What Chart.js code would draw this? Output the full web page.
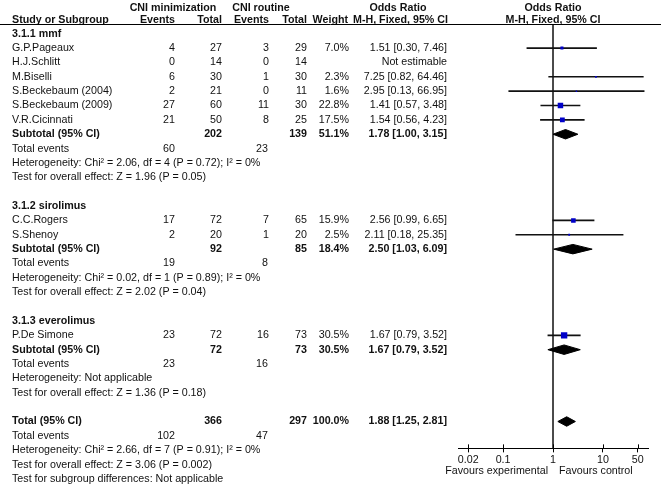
<!DOCTYPE html>
<html><head><meta charset="utf-8">
<script src="https://cdn.jsdelivr.net/npm/chart.js@4"></script>
<style>html,body{margin:0;padding:0;background:#fff;}#wrap{width:661px;height:488px;position:relative;}</style>
</head><body><div id="wrap"><canvas id="c" width="661" height="488"></canvas></div>
<script>
// ---------- data ----------
const studyNames = ["G.P.Pageaux","H.J.Schlitt","M.Biselli","S.Beckebaum (2004)","S.Beckebaum (2009)","V.R.Cicinnati","C.C.Rogers","S.Shenoy","P.De Simone"];
const studyRows = [1,2,3,4,5,6,13,14,21];
const expEvents = [4,0,6,2,27,21,17,2,23];
const expTotals = [27,14,30,21,60,50,72,20,72];
const ctlEvents = [3,0,1,0,11,8,7,1,16];
const ctlTotals = [29,14,30,11,30,25,65,20,73];
const studyWeights = [7.0,null,2.3,1.6,22.8,17.5,15.9,2.5,30.5];
const studyOR = [1.51,null,7.25,2.95,1.41,1.54,2.56,2.11,1.67];
const studyLow = [0.30,null,0.82,0.13,0.57,0.56,0.99,0.18,0.79];
const studyHigh = [7.46,null,64.46,66.95,3.48,4.23,6.65,25.35,3.52];

const groupLabels = ["3.1.1 mmf","3.1.2 sirolimus","3.1.3 everolimus"];
const groupRows = [0,12,20];

const pooledLabels = ["Subtotal (95% CI)","Subtotal (95% CI)","Subtotal (95% CI)","Total (95% CI)"];
const pooledRows = [7,15,22,27];
const pooledExpTotals = [202,92,72,366];
const pooledCtlTotals = [139,85,73,297];
const pooledWeights = [51.1,18.4,30.5,100.0];
const pooledOR = [1.78,2.50,1.67,1.88];
const pooledLow = [1.00,1.03,0.79,1.25];
const pooledHigh = [3.15,6.09,3.52,2.81];
const pooledExpEvents = [60,19,23,102];
const pooledCtlEvents = [23,8,16,47];
const heterogeneity = [
  "Heterogeneity: Chi² = 2.06, df = 4 (P = 0.72); I² = 0%",
  "Heterogeneity: Chi² = 0.02, df = 1 (P = 0.89); I² = 0%",
  "Heterogeneity: Not applicable",
  "Heterogeneity: Chi² = 2.66, df = 7 (P = 0.91); I² = 0%"
];
const overallEffect = [
  "Test for overall effect: Z = 1.96 (P = 0.05)",
  "Test for overall effect: Z = 2.02 (P = 0.04)",
  "Test for overall effect: Z = 1.36 (P = 0.18)",
  "Test for overall effect: Z = 3.06 (P = 0.002)"
];
const subgroupTest = "Test for subgroup differences: Not applicable";
const xTicks = [0.02,0.1,1,10,50];
const favourLabels = ["Favours experimental","Favours control"];
const headerTop = ["CNI minimization","CNI routine","Odds Ratio","Odds Ratio"];
const headerSub = ["Study or Subgroup","Events","Total","Events","Total","Weight","M-H, Fixed, 95% CI","M-H, Fixed, 95% CI"];

// ---------- layout constants ----------
const Y_MIN = -0.606, Y_MAX = 28.87;
const X_MIN = 0.0125, X_MAX = 80;
const DIAMOND_H = 0.33;
const FONT = '"Liberation Sans", Arial, sans-serif';
const FSIZE = 10.7;
const COL = {label:12, ev1:175, tot1:222, ev2:269, tot2:307, weight:349, or:447, orHead:398};

const fmt2 = v => v.toFixed(2);
const ciText = (o,l,h) => fmt2(o) + " [" + fmt2(l) + ", " + fmt2(h) + "]";

// ---------- datasets ----------
const squares = [], ciBars = [], sqSides = [];
studyRows.forEach((r,i) => {
  if (studyOR[i] === null) return;
  squares.push({x: studyOR[i], y: r});
  sqSides.push(1.15 * Math.sqrt(studyWeights[i]));
  ciBars.push({x: [studyLow[i], studyHigh[i]], y: r});
});

const datasets = [
  {type:'scatter', data: squares, pointStyle:'rect', backgroundColor:'#0000c8', borderWidth:0,
   pointRadius: c => sqSides[c.dataIndex] / Math.SQRT2, pointHoverRadius: c => sqSides[c.dataIndex] / Math.SQRT2},
  {type:'bar', indexAxis:'y', data: ciBars, backgroundColor:'#111', borderWidth:0, barThickness:1, grouped:false}
];
pooledRows.forEach((r,i) => {
  datasets.push({type:'line', data:[{x:pooledLow[i],y:r},{x:pooledOR[i],y:r-DIAMOND_H},{x:pooledHigh[i],y:r}],
    borderColor:'#000', borderWidth:1, backgroundColor:'#000', pointRadius:0, fill:'+1', tension:0});
  datasets.push({type:'line', data:[{x:pooledLow[i],y:r},{x:pooledOR[i],y:r+DIAMOND_H},{x:pooledHigh[i],y:r}],
    borderColor:'#000', borderWidth:1, backgroundColor:'#000', pointRadius:0, fill:false, tension:0});
});
datasets.push({type:'line', data:[{x:1,y:Y_MIN},{x:1,y:Y_MAX}], borderColor:'#333', borderWidth:1, pointRadius:0, fill:false});

// ---------- text plugin ----------
const tablePlugin = {
  id:'forestTable',
  afterDraw(chart){
    const ctx = chart.ctx, ys = chart.scales.y, xs = chart.scales.x, ca = chart.chartArea;
    const put = (t, x, y, align, bold) => {
      ctx.font = (bold ? 'bold ' : '') + FSIZE + 'px ' + FONT;
      ctx.textAlign = align; ctx.textBaseline = 'middle'; ctx.fillStyle = '#111';
      ctx.fillText(String(t), x, y);
    };
    const py = r => ys.getPixelForValue(r);
    ctx.save();
    // headers
    const y0 = py(0), h1 = y0 - 26, h2 = y0 - 13.5, one = xs.getPixelForValue(1);
    put(headerTop[0], 173, h1, 'center', true);
    put(headerTop[1], 261, h1, 'center', true);
    put(headerTop[2], COL.orHead, h1, 'center', true);
    put(headerTop[3], one, h1, 'center', true);
    put(headerSub[0], COL.label, h2, 'left', true);
    put(headerSub[1], COL.ev1, h2, 'right', true);
    put(headerSub[2], COL.tot1, h2, 'right', true);
    put(headerSub[3], COL.ev2, h2, 'right', true);
    put(headerSub[4], COL.tot2, h2, 'right', true);
    put(headerSub[5], COL.weight - 1, h2, 'right', true);
    put(headerSub[6], 448, h2, 'right', true);
    put(headerSub[7], one, h2, 'center', true);
    ctx.strokeStyle = '#000'; ctx.lineWidth = 1;
    ctx.beginPath(); ctx.moveTo(0, ca.top - 0.5); ctx.lineTo(661, ca.top - 0.5); ctx.stroke();
    // groups
    groupRows.forEach((r,i) => put(groupLabels[i], COL.label, py(r), 'left', true));
    // studies
    studyRows.forEach((r,i) => {
      const y = py(r);
      put(studyNames[i], COL.label, y, 'left', false);
      put(expEvents[i], COL.ev1, y, 'right', false);
      put(expTotals[i], COL.tot1, y, 'right', false);
      put(ctlEvents[i], COL.ev2, y, 'right', false);
      put(ctlTotals[i], COL.tot2, y, 'right', false);
      if (studyWeights[i] !== null) put(studyWeights[i].toFixed(1) + '%', COL.weight, y, 'right', false);
      put(studyOR[i] === null ? 'Not estimable' : ciText(studyOR[i], studyLow[i], studyHigh[i]), COL.or, y, 'right', false);
    });
    // pooled
    pooledRows.forEach((r,i) => {
      const y = py(r);
      put(pooledLabels[i], COL.label, y, 'left', true);
      put(pooledExpTotals[i], COL.tot1, y, 'right', true);
      put(pooledCtlTotals[i], COL.tot2, y, 'right', true);
      put(pooledWeights[i].toFixed(1) + '%', COL.weight, y, 'right', true);
      put(ciText(pooledOR[i], pooledLow[i], pooledHigh[i]), COL.or, y, 'right', true);
      put('Total events', COL.label, py(r+1), 'left', false);
      put(pooledExpEvents[i], COL.ev1, py(r+1), 'right', false);
      put(pooledCtlEvents[i], 268, py(r+1), 'right', false);
      put(heterogeneity[i], COL.label, py(r+2), 'left', false);
      put(overallEffect[i], COL.label, py(r+3), 'left', false);
    });
    put(subgroupTest, COL.label, py(pooledRows[pooledRows.length-1] + 4), 'left', false);
    // tick tops
    ctx.strokeStyle = '#000';
    xTicks.forEach(v => {
      const x = Math.round(xs.getPixelForValue(v)) + 0.5;
      ctx.beginPath(); ctx.moveTo(x, ca.bottom - 4); ctx.lineTo(x, ca.bottom); ctx.stroke();
    });
    // favours
    put(favourLabels[0], one - 5, ca.bottom + 23, 'right', false);
    put(favourLabels[1], one + 6, ca.bottom + 23, 'left', false);
    ctx.restore();
  }
};

new Chart(document.getElementById('c'), {
  type:'scatter',
  data:{datasets},
  plugins:[tablePlugin],
  options:{
    responsive:false, animation:false, events:[],
    layout:{padding:{left:458, right:13, top:25, bottom:20.8}},
    plugins:{legend:{display:false}, tooltip:{enabled:false}},
    scales:{
      x:{type:'logarithmic', min:X_MIN, max:X_MAX, position:'bottom', offset:false,
         afterBuildTicks: a => { a.ticks = xTicks.map(v => ({value:v})); },
         ticks:{autoSkip:false, maxRotation:0, minRotation:0, padding:1, color:'#111',
                font:{family:FONT, size:FSIZE}, callback: v => String(v)},
         grid:{drawOnChartArea:false, drawTicks:true, tickLength:4, color:'#000', offset:false},
         border:{display:true, color:'#000', width:1}},
      y:{type:'linear', display:false, min:Y_MIN, max:Y_MAX, reverse:true, offset:false,
         grid:{offset:false}}
    }
  }
});
</script></body></html>
